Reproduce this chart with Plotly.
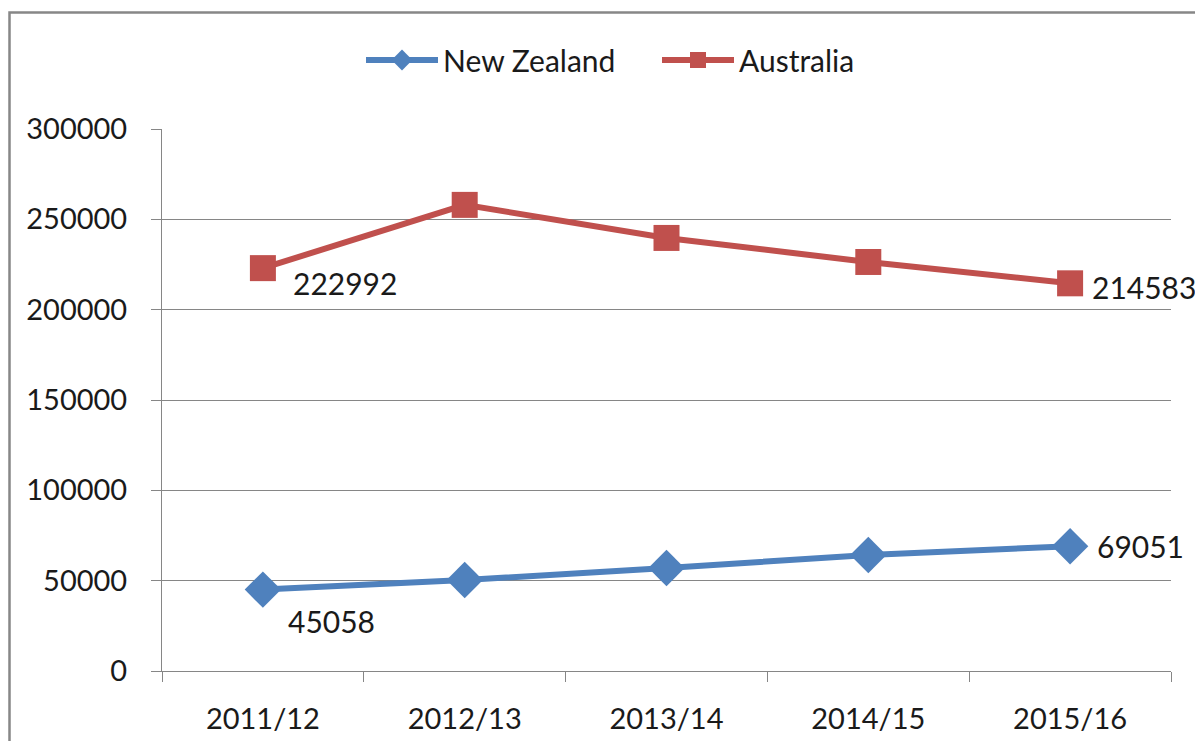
import plotly.graph_objects as go

categories = ["2011/12", "2012/13", "2013/14", "2014/15", "2015/16"]
new_zealand = [45058, 50400, 57000, 64200, 69051]
australia = [222992, 258000, 239700, 226400, 214583]
y_ticks = [0, 50000, 100000, 150000, 200000, 250000, 300000]

FONT = "Lato, 'Open Sans', sans-serif"
TXT = "#1a1a1a"
GRID = "#868686"

# plot area in figure coords (page is offset by 8px body margin)
L, R, T, B = 154, 1163, 121, 663
W, H = 1187, 733
PW, PH = R - L, B - T

fig = go.Figure()
fig.add_trace(go.Scatter(
    x=categories, y=new_zealand, name="New Zealand", mode="lines+markers",
    line=dict(color="#4F81BD", width=6),
    marker=dict(symbol="diamond", size=28, color="#4F81BD"),
    cliponaxis=False,
))
fig.add_trace(go.Scatter(
    x=categories, y=australia, name="Australia", mode="lines+markers",
    line=dict(color="#C0504D", width=6),
    marker=dict(symbol="square", size=26, color="#C0504D"),
    cliponaxis=False,
))

# data labels on first and last points
label_specs = [
    (categories[0], new_zealand[0], 23, -31),
    (categories[-1], new_zealand[-1], 25, 0),
    (categories[0], australia[0], 28, -15),
    (categories[-1], australia[-1], 20, -4),
]
annotations = [
    dict(x=cx, y=v, xref="x", yref="y", text=str(v), showarrow=False,
         xanchor="left", yanchor="middle", xshift=dx, yshift=dy,
         font=dict(size=30, color=TXT, family=FONT))
    for cx, v, dx, dy in label_specs
]

fig.update_layout(
    width=W, height=H,
    margin=dict(l=L, r=W - R, t=T, b=H - B, autoexpand=False),
    paper_bgcolor="white", plot_bgcolor="white",
    font=dict(family=FONT, size=29, color=TXT),
    showlegend=True,
    legend=dict(orientation="h", x=(353 - L) / PW, xanchor="left",
                y=(B - 52) / PH, yanchor="middle", bgcolor="rgba(0,0,0,0)",
                font=dict(size=30, family=FONT, color=TXT), itemwidth=72,
                traceorder="normal", entrywidth=209),
    annotations=annotations,
    shapes=[dict(type="rect", xref="paper", yref="paper",
                 x0=(1.5 - L) / PW, x1=1.2, y0=-0.3, y1=(B - 4.5) / PH,
                 line=dict(color="#878787", width=2.5), layer="below")],
)
fig.update_xaxes(
    type="category", range=[-0.5, 4.5], tickson="boundaries",
    ticks="outside", ticklen=10, tickcolor=GRID,
    showline=True, linecolor=GRID, linewidth=1, showgrid=False,
    tickfont=dict(size=29, family=FONT, color=TXT), ticklabelstandoff=22,
)
fig.update_yaxes(
    range=[0, 300000], tickvals=y_ticks, ticktext=[str(v) for v in y_ticks],
    ticks="outside", ticklen=10, tickcolor=GRID,
    showline=True, linecolor=GRID, linewidth=1,
    showgrid=True, gridcolor=GRID, gridwidth=1, zeroline=False,
    tickfont=dict(size=29, family=FONT, color=TXT), ticklabelstandoff=18,
)
fig.write_html("out.html")
